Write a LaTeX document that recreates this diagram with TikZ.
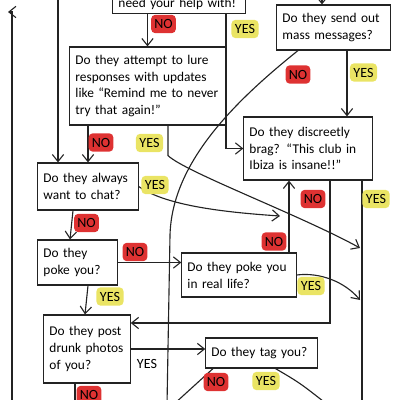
\documentclass[tikz,border=0pt]{standalone}
\usepackage{fontspec}
\setmainfont{Carlito}
\usepackage{tikz}
\usetikzlibrary{arrows.meta, calc}
\definecolor{inkdark}{RGB}{35,35,35}
\definecolor{nored}{RGB}{222,50,50}
\definecolor{yesyellow}{RGB}{234,228,100}
\tikzset{
  qbox/.style={rectangle, draw=inkdark, fill=white, align=left,
    font=\fontsize{9.5}{12}\selectfont, inner sep=4pt, line width=0.8pt},
  nolabel/.style={rectangle, fill=nored, rounded corners=3pt,
    minimum width=0.62cm, minimum height=0.46cm, inner sep=1pt,
    font=\fontsize{10}{12}\selectfont},
  yeslabel/.style={rectangle, fill=yesyellow, rounded corners=3pt,
    minimum width=0.68cm, minimum height=0.46cm, inner sep=1pt,
    font=\fontsize{10}{12}\selectfont},
  plainlabel/.style={inner sep=1pt, font=\fontsize{10}{12}\selectfont},
  arrow/.style={-{Straight Barb[length=5pt,width=8pt]}, line width=0.8pt, color=inkdark},
  line/.style={line width=0.8pt, color=inkdark}
}

\begin{document}
\begin{tikzpicture}[x=0.025cm, y=-0.025cm]
  \useasboundingbox (0,0) rectangle (400,400);
  \clip (0,0) rectangle (400,400);
  % Question boxes
  \node[qbox, anchor=south, text width=3.025cm, inner ysep=3pt] (help) at (179,14) {need your help with!};
  \node[qbox, text width=2.55cm, minimum height=1.125cm] (mass) at (333.5,27.5) {Do they send out\\mass messages?};
  \node[qbox, text width=3.6cm, minimum height=1.95cm] (lure) at (147.5,86) {Do they attempt to lure\\responses with updates\\like ``Remind me to never\\try that again!''};
  \node[qbox, text width=2.925cm, minimum height=1.575cm] (brag) at (308,148.5) {Do they discreetly\\brag? ``This club in\\Ibiza is insane!!''};
  \node[qbox, text width=2.225cm, minimum height=1.175cm] (chat) at (88,186.5) {Do they always\\want to chat?};
  \node[qbox, text width=1.7cm, minimum height=1.125cm] (poke) at (77.5,262.5) {Do they\\poke you?};
  \node[qbox, text width=2.575cm, minimum height=1.1cm] (real) at (239,275) {Do they poke you\\in real life?};
  \node[qbox, text width=1.875cm, minimum height=1.7cm] (drunk) at (87,349) {Do they post\\drunk photos\\of you?};
  \node[qbox, text width=2.5cm, minimum height=0.75cm] (tag) at (261.5,353) {Do they tag you?};
  % Free ends
  \coordinate (leftstart) at (12,405);
  \coordinate (leftend) at (8,12);
  \coordinate (chatin) at (58,-5);
  \coordinate (massin) at (322,-10);
  \coordinate (massnoend) at (167,405);
  \coordinate (joinyes) at (360,248);
  \coordinate (joinno) at (280,216);
  \coordinate (joinreal) at (360,300);
  \coordinate (bragyesend) at (362,405);
  \coordinate (drunknoend) at (75,405);
  \coordinate (tagnoend) at (173,405);
  \coordinate (tagyesend) at (328,405);
  % Connectors
  \draw[arrow] (leftstart) |- (leftend);
  \draw[arrow] (chatin) -- (chatin |- chat.north);
  \draw[arrow] (massin) -- (massin |- mass.north);
  \draw[arrow] (help.south -| lure.north) -- (lure.north);
  \draw[arrow] ($(help.south)+(47,0)$) |- (brag.west);
  \draw[line] ($(mass.south)+(-35.5,0)$) .. controls (230,105) and (172,165) .. (170,235) -- (massnoend);
  \draw[arrow] ($(mass.south)+(13.5,0)$) coordinate (massyes) -- (massyes |- brag.north);
  \draw[arrow] (lure.south -| chat.north) -- (chat.north);
  \draw[arrow] ($(lure.south)+(20.5,0)$) -- ++(0,30) .. controls (185,172) and (300,215) .. (joinyes);
  \draw[arrow] (chat.east) .. controls (165,205) and (220,212) .. (joinno);
  \draw[arrow] ($(brag.south)+(22,0)$) |- ($(drunk.east)+(0,-26)$);
  \draw[line] ($(brag.south)+(54,0)$) -- (bragyesend);
  \draw[arrow] ($(real.north)+(50,0)$) coordinate (realno) -- (realno |- brag.south);
  \draw[arrow] (real.east) .. controls (320,272) and (345,282) .. (joinreal);
  \draw[arrow] ($(chat.south)+(-15,0)$) -- ($(poke.north)+(-7.5,0)$);
  \draw[arrow] (poke.east) -- (poke.east -| real.west);
  \draw[arrow] ($(poke.south)+(10.5,0)$) -- ($(drunk.north)+(-2,0)$);
  \draw[arrow] (drunk.east) -- (drunk.east -| tag.west);
  \draw[line] ($(drunk.south)+(-12,0)$) -- (drunknoend);
  \draw[line] ($(tag.south)+(-48.5,0)$) -- (tagnoend);
  \draw[line] ($(tag.south)+(14,0)$) .. controls (300,383) .. (tagyesend);
  % Answer labels
  \node[nolabel] (helpno) at (163.5,24) {NO};
  \node[yeslabel] (helpyes) at (245,29) {YES};
  \node[nolabel] (massnolab) at (298,74.5) {NO};
  \node[yeslabel] (massyeslab) at (363.5,72.5) {YES};
  \node[nolabel] (lureno) at (101,142.5) {NO};
  \node[yeslabel] (lureyes) at (149.5,143) {YES};
  \node[yeslabel] (chatyes) at (155,185) {YES};
  \node[nolabel] (bragno) at (313,199) {NO};
  \node[yeslabel] (bragyes) at (376,199) {YES};
  \node[nolabel] (chatno) at (86.5,223) {NO};
  \node[nolabel] (pokeno) at (135,252) {NO};
  \node[nolabel] (realnolab) at (274,241.5) {NO};
  \node[yeslabel] (realyes) at (311,286) {YES};
  \node[yeslabel] (pokeyes) at (110,296.5) {YES};
  \node[plainlabel] (drunkyes) at (147,364) {YES};
  \node[nolabel] (drunkno) at (89,395) {NO};
  \node[nolabel] (tagno) at (216,382) {NO};
  \node[yeslabel] (tagyes) at (266,381) {YES};
\end{tikzpicture}
\end{document}
